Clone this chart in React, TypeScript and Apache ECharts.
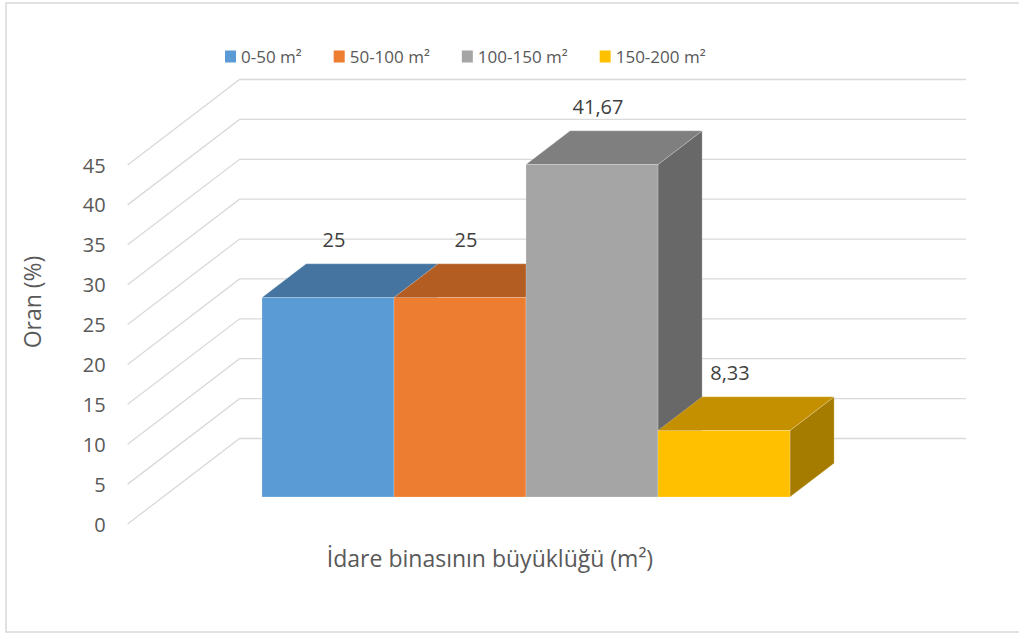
import React, { useEffect, useRef } from "react";
import * as echarts from "echarts";

const CATEGORIES = ["0-50 m²", "50-100 m²", "100-150 m²", "150-200 m²"];
const VALUES = [25, 25, 41.67, 8.33];
const Y_TICKS = [0, 5, 10, 15, 20, 25, 30, 35, 40, 45];
const Y_TITLE = "Oran (%)";
const X_TITLE = "İdare binasının büyüklüğü (m²)";

const FRONT_COLORS = ["#5B9BD5", "#ED7D31", "#A5A5A5", "#FFC000"];
const TOP_COLORS = ["#44749F", "#B35D23", "#7F7F7F", "#C49000"];
const SIDE_COLORS = ["#3A6389", "#9A4F1E", "#686868", "#A67C00"];

const FONT = "'Open Sans', sans-serif";
const TEXT_COLOR = "#595959";
const GRID_COLOR = "#d9d9d9";

// oblique projection geometry
const FULL_DX = 112;
const FULL_DY = -85.5;
const FRONT_F = 0.316;
const BACK_F = 0.71;
const AXIS_OFFSET = 99;
const WALL_RIGHT = 966;

const fmt = (v: number) => String(v).replace(".", ",");

export default function App() {
  const ref = useRef<HTMLDivElement>(null);
  useEffect(() => {
    if (!ref.current) return;
    const chart = echarts.init(ref.current, undefined, { renderer: "svg" });
    const fdx = FULL_DX * FRONT_F;
    const fdy = FULL_DY * FRONT_F;
    const bdx = FULL_DX * BACK_F;
    const bdy = FULL_DY * BACK_F;

    const gridSeries: any = {
      type: "custom",
      name: "grid",
      z: 1,
      silent: true,
      coordinateSystem: "cartesian2d",
      data: Y_TICKS.map((t) => [0, t]),
      renderItem: (params: any, api: any) => {
        const cs = params.coordSys;
        const y = api.coord([0, api.value(1)])[1];
        const x0 = cs.x - AXIS_OFFSET;
        return {
          type: "polyline",
          shape: {
            points: [
              [x0, y],
              [x0 + FULL_DX, y + FULL_DY],
              [WALL_RIGHT, y + FULL_DY],
            ],
          },
          style: { stroke: GRID_COLOR, lineWidth: 1.3, fill: null },
        };
      },
    };

    const barSeries = CATEGORIES.map((name, i) => ({
      type: "custom",
      name,
      z: 3 + i,
      silent: true,
      coordinateSystem: "cartesian2d",
      itemStyle: { color: FRONT_COLORS[i] },
      data: [[i, VALUES[i]]],
      renderItem: (params: any, api: any) => {
        const idx = api.value(0);
        const val = api.value(1);
        const top = api.coord([idx, val]);
        const base = api.coord([idx, 0]);
        const w = api.size([1, 0])[0];
        const x0 = top[0] - w / 2;
        const x1 = top[0] + w / 2;
        const yT = top[1];
        const yB = base[1];
        const edge = { stroke: "rgba(255,255,255,0.35)", lineWidth: 0.6 };
        return {
          type: "group",
          children: [
            {
              type: "polygon",
              shape: {
                points: [
                  [x1 + fdx, yT + fdy],
                  [x1 + bdx, yT + bdy],
                  [x1 + bdx, yB + bdy],
                  [x1 + fdx, yB + fdy],
                ],
              },
              style: { fill: SIDE_COLORS[i], ...edge },
            },
            {
              type: "polygon",
              shape: {
                points: [
                  [x0 + fdx, yT + fdy],
                  [x0 + bdx, yT + bdy],
                  [x1 + bdx, yT + bdy],
                  [x1 + fdx, yT + fdy],
                ],
              },
              style: { fill: TOP_COLORS[i], ...edge },
            },
            {
              type: "rect",
              shape: {
                x: x0 + fdx,
                y: yT + fdy,
                width: x1 - x0,
                height: yB - yT,
              },
              style: { fill: FRONT_COLORS[i], ...edge },
            },
            {
              type: "text",
              z2: 10,
              style: {
                text: fmt(VALUES[i]),
                x: (x0 + x1) / 2 + fdx + 6,
                y: yT + fdy - 58,
                align: "center",
                verticalAlign: "middle",
                fill: "#404040",
                fontSize: 20,
                fontFamily: FONT,
              },
            },
          ],
        };
      },
    }));

    chart.setOption({
      animation: false,
      backgroundColor: "#ffffff",
      color: FRONT_COLORS,
      legend: {
        data: CATEGORIES.map((n) => ({ name: n, icon: "rect" })),
        left: 220,
        top: 43,
        itemWidth: 11,
        itemHeight: 12,
        itemGap: 32,
        selectedMode: false,
        textStyle: { fontSize: 17, color: TEXT_COLOR, fontFamily: FONT },
      },
      grid: { left: 226.6, width: 528, top: 165, bottom: 109 },
      xAxis: {
        type: "category",
        data: CATEGORIES,
        axisLine: { show: false },
        axisTick: { show: false },
        axisLabel: { show: false },
        splitLine: { show: false },
      },
      yAxis: {
        type: "value",
        min: 0,
        max: 45,
        interval: 5,
        offset: AXIS_OFFSET,
        axisLine: { show: false },
        axisTick: { show: false },
        splitLine: { show: false },
        axisLabel: {
          fontSize: 20,
          color: TEXT_COLOR,
          fontFamily: FONT,
          margin: 22,
        },
      },
      graphic: [
        {
          type: "rect",
          silent: true,
          shape: { x: 6, y: 3, width: 1030, height: 629 },
          style: { fill: "none", stroke: GRID_COLOR, lineWidth: 1.5 },
        },
        {
          type: "text",
          x: 32,
          y: 302,
          rotation: Math.PI / 2,
          style: {
            text: Y_TITLE,
            align: "center",
            verticalAlign: "middle",
            fill: TEXT_COLOR,
            fontSize: 23,
            fontFamily: FONT,
          },
        },
        {
          type: "text",
          x: 490,
          y: 558,
          style: {
            text: X_TITLE,
            align: "center",
            verticalAlign: "middle",
            fill: TEXT_COLOR,
            fontSize: 23,
            fontFamily: FONT,
          },
        },
      ],
      series: [gridSeries, ...barSeries],
    });
    return () => chart.dispose();
  }, []);

  return (
    <div
      ref={ref}
      style={{ position: "fixed", left: 0, top: 0, width: 1019, height: 633, background: "#fff" }}
    />
  );
}
